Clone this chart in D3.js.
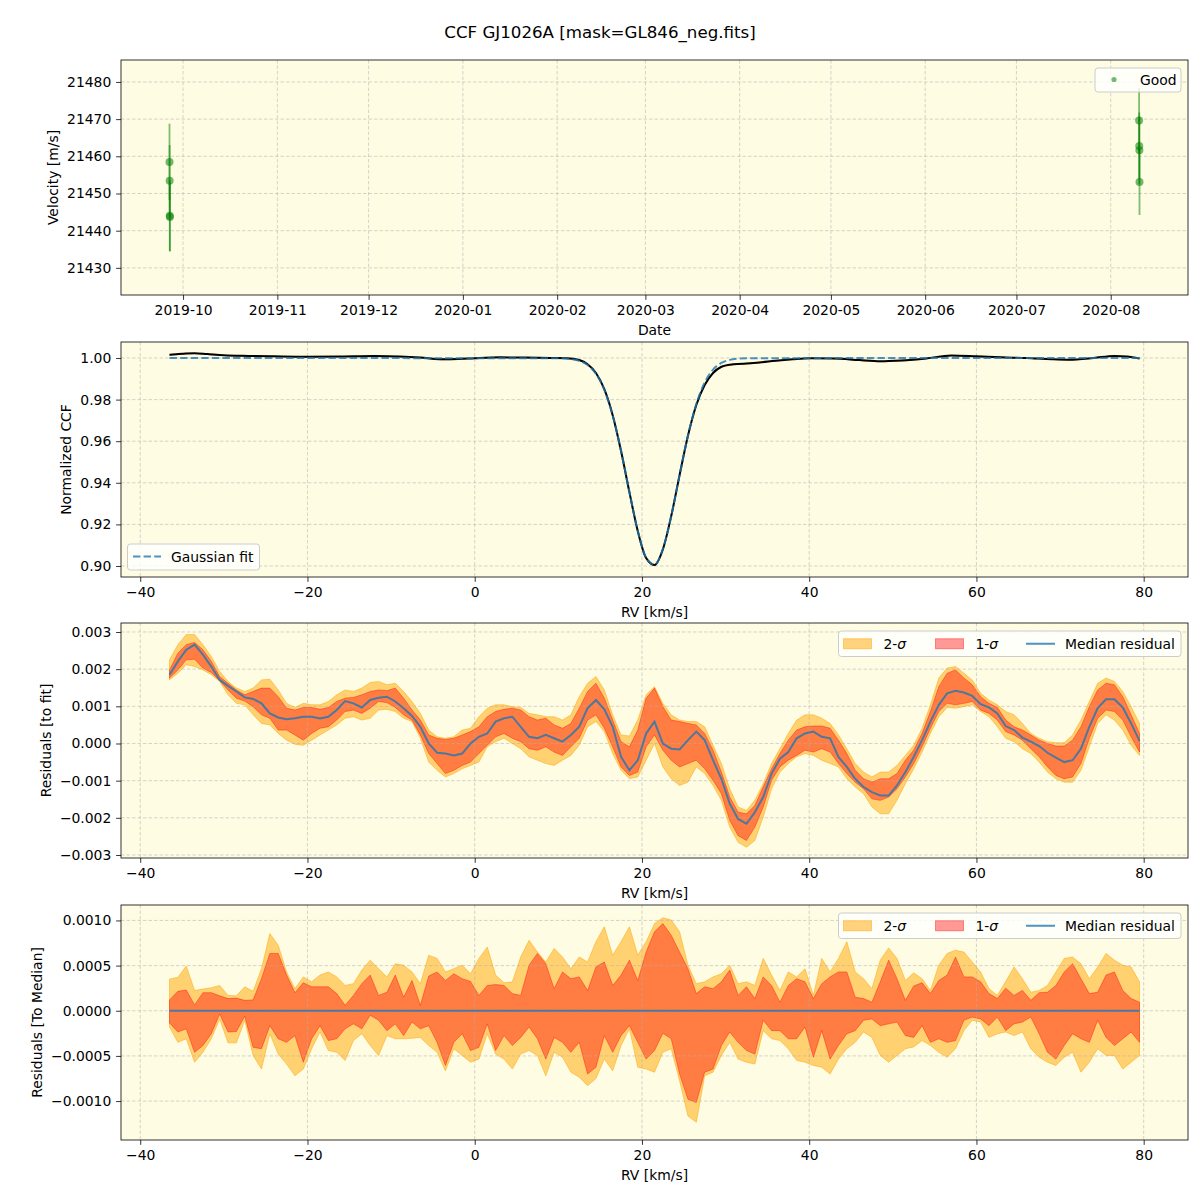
<!DOCTYPE html>
<html><head><meta charset="utf-8">
<script src="https://cdn.jsdelivr.net/npm/d3@7"></script>
<style>body{margin:0;background:#fff}</style>
</head><body><svg id="c" width="1200" height="1200"></svg>
<script>
// ---------------- DATA ----------------
// Panel 1: velocities
const obsDates = ["2019-09-26T13:00Z","2019-09-26T14:00Z","2019-09-26T15:00Z","2019-09-26T16:00Z",
                  "2020-08-10T08:00Z","2020-08-10T09:00Z","2020-08-10T10:00Z","2020-08-10T11:00Z"];
const obsVel = [21458.5, 21453.4, 21444.0, 21443.7, 21469.6, 21462.8, 21461.6, 21453.1];
const obsErr = [10.3, 9.6, 9.5, 9.3, 8.8, 9.0, 9.1, 8.9];

// Panel 2: CCF (median) and Gaussian fit
const ccfRV  = [-36.5,-35,-33.5,-32,-30,-27,-24,-20,-16,-12,-9,-6.5,-4,-2,0,3,6,9,11,
  12.5,13.5,14.5,15.5,16.5,17.5,18.5,19.5,20.5,21.5,22.5,23.5,24.5,25.5,26.5,27.5,28.5,29.5,30.5,
  32,34,36,38,40,43,46,48.5,51,54,57,60,63,66,69,71,74,76.5,78,79.5];
const ccfVal = [1.0016,1.0020,1.0023,1.0019,1.0013,1.0010,1.0008,1.0006,1.0007,1.0009,1.0007,1.0002,0.9994,0.9995,0.9999,1.0003,1.0002,1.0000,0.9999,
  0.9990,0.9970,0.9928,0.9850,0.9725,0.9553,0.9355,0.9168,0.9038,0.9005,0.9080,0.9240,0.9437,0.9626,0.9774,0.9870,0.9928,0.9958,0.9968,
  0.9972,0.9978,0.9987,0.9994,0.9999,0.9998,0.9990,0.9984,0.9988,0.9998,1.0012,1.0008,1.0003,1.0000,0.9994,0.9992,1.0000,1.0010,1.0007,0.9998];
const ccfSpread = [4,4,4,4,4,4,4,4,4,4,4,4,5,5,4,4,4,4,4,
  4,5,5,6,6,6,6,6,6,6,6,6,6,6,6,6,5,5,5,
  5,5,4,4,4,4,5,5,5,4,4,4,4,4,4,4,4,4,4,4]; // x1e-4
const gaussRV  = [-36.5,10.5,11.5,12.5,13.5,14.5,15.5,16.5,17.5,18.5,19.5,20.5,21.5,22.5,23.5,24.5,25.5,26.5,27.5,28.5,29.5,30.5,31.5,32.5,79.5];
const gaussVal = [1.0000,0.99985,0.99952,0.99865,0.99662,0.99238,0.98465,0.97234,0.95539,0.93563,0.91689,0.90397,0.90072,0.90815,0.92396,0.94367,0.96266,0.97785,0.98825,0.99442,0.99762,0.99910,0.99970,0.99991,1.0000];

// RV sampling grid for residual panels
const rv = [-36.5,-35.5,-34.5,-33.5,-32.5,-31.5,-30.5,-29.5,-28.5,-27.5,
  -26.5,-25.5,-24.5,-23.5,-22.5,-21.5,-20.5,-19.5,-18.5,-17.5,
  -16.5,-15.5,-14.5,-13.5,-12.5,-11.5,-10.5,-9.5,-8.5,-7.5,
  -6.5,-5.5,-4.5,-3.5,-2.5,-1.5,-0.5,0.5,1.5,2.5,
  3.5,4.5,5.5,6.5,7.5,8.5,9.5,10.5,11.5,12.5,
  13.5,14.5,15.5,16.5,17.5,18.5,19.5,20.5,21.5,22.5,
  23.5,24.5,25.5,26.5,27.5,28.5,29.5,30.5,31.5,32.5,
  33.5,34.5,35.5,36.5,37.5,38.5,39.5,40.5,41.5,42.5,
  43.5,44.5,45.5,46.5,47.5,48.5,49.5,50.5,51.5,52.5,
  53.5,54.5,55.5,56.5,57.5,58.5,59.5,60.5,61.5,62.5,
  63.5,64.5,65.5,66.5,67.5,68.5,69.5,70.5,71.5,72.5,
  73.5,74.5,75.5,76.5,77.5,78.5,79.5];

// Panel 3: residuals to fit (units of 1e-3)
const fitMedian = [1.85,2.21,2.52,2.66,2.39,2.07,1.71,1.55,1.40,1.24,
  1.20,1.08,0.81,0.70,0.65,0.68,0.72,0.72,0.67,0.72,
  0.90,1.14,1.08,0.97,1.17,1.23,1.26,1.13,0.95,0.74,
  0.45,0.00,-0.25,-0.27,-0.32,-0.27,0.00,0.18,0.27,0.59,
  0.68,0.72,0.45,0.18,0.14,0.23,0.14,0.05,0.23,0.45,
  0.95,1.17,0.92,0.45,-0.36,-0.72,-0.45,0.27,0.59,0.00,
  -0.14,-0.16,0.09,0.32,0.09,-0.45,-0.95,-1.62,-2.03,-2.16,
  -1.85,-1.44,-0.81,-0.41,-0.23,0.14,0.27,0.32,0.18,0.14,
  -0.36,-0.63,-0.95,-1.17,-1.31,-1.40,-1.40,-1.13,-0.77,-0.36,
  0.09,0.59,1.04,1.35,1.42,1.37,1.28,1.06,0.97,0.81,
  0.47,0.36,0.16,0.05,-0.07,-0.25,-0.38,-0.50,-0.45,-0.14,
  0.45,0.95,1.19,1.19,0.97,0.54,0.07];
const fitHi1 = [1.98,2.43,2.66,2.72,2.52,2.21,1.80,1.62,1.44,1.31,
  1.40,1.49,1.49,1.26,0.95,0.90,0.97,0.97,0.92,0.97,
  1.13,1.22,1.24,1.31,1.40,1.44,1.42,1.49,1.22,0.90,
  0.63,0.23,0.14,0.11,0.14,0.23,0.32,0.45,0.72,0.86,
  0.92,0.95,0.90,0.72,0.63,0.68,0.50,0.41,0.54,0.95,
  1.40,1.62,1.22,0.63,0.05,-0.09,0.36,1.22,1.49,0.99,
  0.63,0.59,0.54,0.50,0.27,-0.18,-0.77,-1.44,-1.85,-1.89,
  -1.67,-1.17,-0.68,-0.27,0.09,0.36,0.45,0.47,0.47,0.41,
  0.09,-0.27,-0.72,-0.95,-1.04,-0.95,-0.95,-0.81,-0.45,-0.18,
  0.27,0.86,1.53,1.89,1.98,1.76,1.58,1.26,1.08,0.97,
  0.63,0.45,0.36,0.23,0.09,0.00,-0.07,-0.07,0.09,0.45,
  0.99,1.44,1.62,1.58,1.26,0.77,0.27];
const fitLo1 = [1.76,1.98,2.25,2.27,2.03,1.91,1.69,1.44,1.22,1.14,
  0.99,0.77,0.68,0.36,0.36,0.23,0.09,0.27,0.41,0.45,
  0.63,0.86,0.90,0.81,0.95,1.13,1.10,0.97,0.77,0.63,
  0.23,-0.27,-0.54,-0.81,-0.72,-0.59,-0.50,-0.27,-0.05,0.18,
  0.27,0.14,0.05,-0.14,-0.18,-0.09,-0.23,-0.32,-0.09,0.14,
  0.63,0.77,0.41,-0.09,-0.63,-0.86,-0.77,-0.09,0.23,-0.18,
  -0.45,-0.63,-0.54,-0.45,-0.68,-0.99,-1.35,-2.07,-2.48,-2.61,
  -2.25,-1.71,-0.99,-0.63,-0.45,-0.32,-0.18,-0.23,-0.14,-0.23,
  -0.54,-0.81,-1.04,-1.22,-1.49,-1.53,-1.44,-1.22,-0.90,-0.54,
  -0.09,0.41,0.86,1.08,1.04,1.08,1.13,0.90,0.81,0.63,
  0.32,0.23,0.09,-0.14,-0.36,-0.63,-0.86,-0.95,-0.90,-0.54,
  0.14,0.68,0.90,0.86,0.63,0.18,-0.23];
const fitHi2 = [2.25,2.66,2.93,2.93,2.66,2.34,1.94,1.67,1.49,1.40,
  1.49,1.71,1.73,1.44,1.08,0.97,1.08,1.04,1.04,1.13,
  1.31,1.44,1.40,1.49,1.64,1.67,1.58,1.62,1.40,1.13,
  0.81,0.36,0.18,0.14,0.18,0.36,0.41,0.72,0.95,1.04,
  1.04,0.99,0.97,0.81,0.77,0.72,0.72,0.63,0.77,1.26,
  1.62,1.80,1.44,0.77,0.23,0.20,0.63,1.31,1.53,1.08,
  0.77,0.63,0.59,0.59,0.45,-0.05,-0.54,-1.22,-1.71,-1.80,
  -1.53,-1.08,-0.54,-0.14,0.27,0.63,0.77,0.77,0.68,0.54,
  0.23,-0.14,-0.54,-0.77,-0.90,-0.77,-0.77,-0.59,-0.32,-0.05,
  0.41,1.04,1.76,2.03,2.07,1.89,1.71,1.35,1.17,1.04,
  0.86,0.77,0.54,0.27,0.14,0.05,0.02,0.02,0.23,0.63,
  1.13,1.62,1.76,1.67,1.40,0.99,0.54];
const fitLo2 = [1.71,1.89,2.12,2.07,1.98,1.85,1.67,1.31,1.08,1.04,
  0.77,0.54,0.50,0.27,0.09,-0.02,-0.05,0.09,0.23,0.36,
  0.50,0.68,0.72,0.63,0.68,0.90,0.92,0.86,0.68,0.59,
  0.14,-0.50,-0.72,-0.90,-0.81,-0.68,-0.59,-0.50,-0.09,0.05,
  0.14,0.00,-0.14,-0.36,-0.45,-0.54,-0.59,-0.45,-0.32,-0.05,
  0.45,0.59,0.32,-0.27,-0.72,-0.95,-0.90,-0.45,0.00,-0.63,
  -0.95,-1.13,-1.04,-0.63,-0.81,-1.13,-1.53,-2.25,-2.66,-2.79,
  -2.61,-1.98,-1.22,-0.77,-0.54,-0.36,-0.27,-0.32,-0.45,-0.54,
  -0.63,-0.95,-1.17,-1.35,-1.71,-1.89,-1.89,-1.53,-1.08,-0.68,
  -0.23,0.27,0.72,0.97,0.95,0.99,1.04,0.86,0.72,0.45,
  0.14,0.05,-0.14,-0.27,-0.50,-0.77,-0.95,-1.04,-1.04,-0.72,
  -0.09,0.54,0.77,0.63,0.36,-0.05,-0.32];

// Panel 4: residuals to median (units of 0.5e-4)
const medRV = [-36.5, 79.5];
const medZero = [0, 0];
const medHi2 = [7.0,7.4,9.9,4.5,4.8,5.1,5.6,3.4,3.3,5.3,
  4.3,9.3,17.1,14.5,8.6,4.9,7.5,6.4,7.9,8.6,
  7.5,5.6,6.0,9.0,11.2,9.3,7.5,10.4,10.1,8.6,
  6.0,12.3,11.6,8.6,9.3,10.1,8.2,11.6,14.1,7.9,
  6.2,6.4,11.9,15.6,13.0,10.8,13.8,11.9,9.3,11.9,
  10.8,15.3,18.6,12.3,15.3,18.6,12.3,15.3,19.3,20.6,
  20.1,17.5,10.1,6.0,6.4,7.5,8.2,10.1,6.0,6.4,
  5.6,11.6,7.9,4.5,8.6,7.5,9.3,3.4,11.6,8.6,
  11.6,15.3,8.6,7.1,4.9,11.2,13.9,11.6,6.7,8.4,
  7.1,4.5,10.1,12.7,13.4,13.0,10.8,8.6,4.9,3.4,
  6.5,9.7,7.1,4.1,4.5,5.6,8.6,11.6,11.9,10.4,
  7.1,9.7,12.7,11.2,10.1,9.7,6.4];
const medHi1 = [2.4,4.3,4.6,1.3,4.0,4.0,3.3,2.7,2.8,2.3,
  2.4,7.1,12.7,12.7,7.9,4.0,6.2,5.3,5.3,5.3,
  3.8,1.2,3.4,6.0,7.9,3.4,4.1,7.9,3.0,6.7,
  1.2,7.7,8.6,6.7,8.2,7.1,6.5,3.4,5.6,5.8,
  5.6,3.8,3.4,10.1,12.7,10.4,4.9,8.6,7.1,7.5,
  4.5,9.7,10.8,5.6,7.9,11.2,6.7,13.0,17.5,19.3,
  16.7,13.0,9.3,3.8,5.3,4.9,6.4,9.0,3.4,5.3,
  2.7,7.5,5.6,1.9,5.6,7.1,6.4,2.7,6.0,7.5,
  8.6,8.6,3.0,2.7,1.9,6.4,11.2,7.1,2.3,5.5,
  6.2,3.8,6.7,7.9,11.9,7.5,7.5,6.4,3.8,2.7,
  5.0,3.4,4.5,2.3,4.0,4.1,5.6,8.6,10.4,7.1,
  3.8,4.1,7.9,8.6,4.5,2.7,1.9];
const medLo1 = [-2.7,-4.7,-4.0,-9.2,-7.7,-5.1,-0.7,-4.7,-4.6,-1.2,
  -8.1,-8.4,-3.3,-6.2,-7.0,-5.5,-11.4,-6.2,-3.3,-6.6,
  -6.2,-4.0,-2.9,-4.0,-1.0,-2.1,-4.4,-2.9,-5.5,-2.5,
  -4.0,-3.3,-7.0,-12.1,-7.0,-5.1,-8.8,-8.1,-2.9,-8.8,
  -5.5,-7.7,-5.9,-3.6,-6.2,-10.7,-5.9,-7.0,-9.2,-7.0,
  -14.0,-12.5,-5.5,-9.2,-5.5,-3.3,-7.0,-10.7,-8.8,-5.0,
  -6.2,-14.0,-19.6,-20.3,-13.6,-12.9,-7.7,-4.7,-7.0,-8.8,
  -9.6,-2.1,-4.4,-4.4,-6.2,-6.2,-3.6,-10.3,-4.4,-10.7,
  -7.7,-5.1,-4.4,-2.1,-1.8,-3.3,-2.9,-2.5,-5.5,-5.9,
  -3.3,-7.0,-6.2,-7.0,-6.6,-2.1,-1.4,-1.8,-3.3,-1.4,
  -4.4,-2.9,-2.5,-1.4,-5.1,-9.2,-10.7,-7.7,-5.1,-6.2,
  -7.0,-2.1,-5.9,-7.7,-6.2,-4.7,-7.0];
const medLo2 = [-3.6,-7.0,-6.2,-11.4,-9.2,-6.2,-1.8,-7.1,-7.1,-2.1,
  -9.9,-12.9,-5.1,-9.6,-11.8,-14.4,-12.9,-8.4,-4.7,-8.8,
  -9.2,-11.0,-6.6,-5.1,-7.7,-9.9,-5.5,-6.2,-6.2,-6.1,
  -5.9,-7.7,-9.2,-13.3,-8.4,-9.9,-11.4,-10.7,-5.1,-9.6,
  -10.7,-12.9,-9.6,-8.8,-9.9,-14.4,-9.2,-10.3,-13.6,-14.7,
  -16.6,-15.0,-10.7,-13.3,-7.7,-4.0,-12.5,-12.9,-13.6,-9.2,
  -8.4,-15.5,-23.3,-24.7,-14.4,-13.6,-9.9,-7.0,-10.7,-11.4,
  -11.8,-4.4,-6.2,-6.6,-8.4,-11.0,-11.4,-12.1,-12.5,-14.0,
  -10.7,-8.4,-7.0,-4.7,-5.9,-9.9,-11.4,-9.9,-8.4,-8.0,
  -6.6,-7.7,-9.2,-10.3,-8.4,-4.4,-2.1,-2.5,-5.9,-5.1,
  -4.7,-5.5,-4.7,-8.4,-10.3,-11.4,-12.1,-10.3,-9.2,-13.6,
  -11.4,-8.4,-9.9,-9.9,-12.9,-11.4,-9.9];

// tick values
const velTicks = [21430, 21440, 21450, 21460, 21470, 21480];
const rvTicks = [-40, -20, 0, 20, 40, 60, 80];
const ccfTicks = [0.90, 0.92, 0.94, 0.96, 0.98, 1.00];
const fitTicks = [-0.003, -0.002, -0.001, 0, 0.001, 0.002, 0.003];
const medTicks = [-0.0010, -0.0005, 0, 0.0005, 0.0010];

// ---------------- LAYOUT ----------------
const FONT = '"DejaVu Sans", sans-serif';
const FS = 13.9;
const L = 121, R = 1188, PH = 235;
const tops = [60, 342, 623, 905];
const BG = '#fefce3';
const svg = d3.select('#c');

svg.append('text').attr('x', 600).attr('y', 38).attr('text-anchor', 'middle')
  .attr('font-family', FONT).attr('font-size', 16.67).text('CCF GJ1026A [mask=GL846_neg.fits]');

function panel(top) {
  const g = {};
  g.bg = svg.append('g'); g.fill = svg.append('g'); g.grid = svg.append('g');
  g.line = svg.append('g'); g.axis = svg.append('g'); g.leg = svg.append('g');
  g.bg.append('rect').attr('x', L).attr('y', top).attr('width', R - L).attr('height', PH).attr('fill', BG);
  return g;
}
function axes(g, top, x, y, xt, xf, yt, yf, xlabel, ylabel, ylx) {
  g.grid.selectAll(null).data(xt).join('line')
    .attr('x1', d => x(d)).attr('x2', d => x(d)).attr('y1', top).attr('y2', top + PH);
  g.grid.selectAll(null).data(yt).join('line')
    .attr('x1', L).attr('x2', R).attr('y1', d => y(d)).attr('y2', d => y(d));
  g.grid.selectAll('line').attr('stroke', '#b0b0b0').attr('stroke-opacity', 0.65)
    .attr('stroke-width', 0.8).attr('stroke-dasharray', '3.5,2');
  const ax = g.axis.append('g').attr('transform', `translate(0,${top + PH})`)
    .call(d3.axisBottom(x).tickValues(xt).tickFormat(xf).tickSize(4.86).tickPadding(4.86));
  const ay = g.axis.append('g').attr('transform', `translate(${L},0)`)
    .call(d3.axisLeft(y).tickValues(yt).tickFormat(yf).tickSize(4.86).tickPadding(4.86));
  [ax, ay].forEach(a => {
    a.select('.domain').remove();
    a.attr('font-family', FONT).attr('font-size', FS);
    a.selectAll('line').attr('stroke', '#000').attr('stroke-width', 0.8);
    a.selectAll('text').attr('fill', '#000');
  });
  g.axis.append('rect').attr('x', L).attr('y', top).attr('width', R - L).attr('height', PH)
    .attr('fill', 'none').attr('stroke', '#000').attr('stroke-width', 0.8);
  g.axis.append('text').attr('x', (L + R) / 2).attr('y', top + PH + 40).attr('text-anchor', 'middle')
    .attr('font-family', FONT).attr('font-size', FS).text(xlabel);
  g.axis.append('text').attr('transform', `translate(${ylx},${top + PH / 2}) rotate(-90)`)
    .attr('text-anchor', 'middle').attr('dominant-baseline', 'central')
    .attr('font-family', FONT).attr('font-size', FS).text(ylabel);
}
function legendBox(g, x, y, w, h) {
  g.leg.append('rect').attr('x', x).attr('y', y).attr('width', w).attr('height', h).attr('rx', 3)
    .attr('fill', '#fff').attr('fill-opacity', 0.8).attr('stroke', '#cccccc').attr('stroke-width', 1);
}
function ltext(g, x, y, t, sigma) {
  const tx = g.leg.append('text').attr('x', x).attr('y', y).attr('font-family', FONT).attr('font-size', FS);
  tx.append('tspan').text(t);
  if (sigma) tx.append('tspan').attr('font-style', 'italic').text('σ');
}

// ---------------- PANEL 1 ----------------
{
  const top = tops[0];
  const g = panel(top);
  const dates = obsDates.map(d => new Date(d));
  const ext = d3.extent(dates);
  const pad = (ext[1] - ext[0]) * 0.05;
  const x = d3.scaleUtc().domain([new Date(+ext[0] - pad), new Date(+ext[1] + pad)]).range([L, R]);
  const y = d3.scaleLinear().domain([21422.7, 21485.9]).range([top + PH, top]);
  const months = d3.utcMonth.range(new Date('2019-10-01T00:00Z'), new Date('2020-08-02T00:00Z'));
  axes(g, top, x, y, months, d3.utcFormat('%Y-%m'), velTicks, d3.format('d'), 'Date', 'Velocity [m/s]', 53);
  const pts = obsDates.map((d, i) => ({ t: dates[i], v: obsVel[i], e: obsErr[i] }));
  g.line.selectAll(null).data(pts).join('line')
    .attr('x1', d => x(d.t)).attr('x2', d => x(d.t)).attr('y1', d => y(d.v - d.e)).attr('y2', d => y(d.v + d.e))
    .attr('stroke', 'green').attr('stroke-opacity', 0.5).attr('stroke-width', 1.8);
  g.line.selectAll(null).data(pts).join('circle')
    .attr('cx', d => x(d.t)).attr('cy', d => y(d.v)).attr('r', 4)
    .attr('fill', 'green').attr('fill-opacity', 0.55);
  legendBox(g, 1095, 68, 86, 24);
  g.leg.append('circle').attr('cx', 1114).attr('cy', 79.5).attr('r', 2.6).attr('fill', 'green').attr('fill-opacity', 0.55);
  ltext(g, 1140, 84.5, 'Good');
}

// shared RV x-scale
const rvExt = d3.extent(rv);
const rvPad = (rvExt[1] - rvExt[0]) * 0.05;
const xRV = d3.scaleLinear().domain([rvExt[0] - rvPad, rvExt[1] + rvPad]).range([L, R]);
const rvFmt = d3.format('d');

// ---------------- PANEL 2 ----------------
{
  const top = tops[1];
  const g = panel(top);
  const y = d3.scaleLinear().domain([0.89471, 1.00769]).range([top + PH, top]);
  axes(g, top, xRV, y, rvTicks, rvFmt, ccfTicks, d3.format('.2f'), 'RV [km/s]', 'Normalized CCF', 66);
  const pts = ccfRV.map((r, i) => ({ r, v: ccfVal[i], s: ccfSpread[i] * 1e-4 }));
  g.fill.append('path').datum(pts)
    .attr('d', d3.area().x(d => xRV(d.r)).y0(d => y(d.v - d.s)).y1(d => y(d.v + d.s * 0.4)).curve(d3.curveMonotoneX))
    .attr('fill', '#ff6a2a').attr('fill-opacity', 0.85);
  g.line.append('path').datum(pts)
    .attr('d', d3.line().x(d => xRV(d.r)).y(d => y(d.v)).curve(d3.curveMonotoneX))
    .attr('fill', 'none').attr('stroke', '#000').attr('stroke-width', 2);
  const gp = gaussRV.map((r, i) => ({ r, v: gaussVal[i] }));
  g.line.append('path').datum(gp)
    .attr('d', d3.line().x(d => xRV(d.r)).y(d => y(d.v)).curve(d3.curveMonotoneX))
    .attr('fill', 'none').attr('stroke', '#1f77b4').attr('stroke-opacity', 0.8)
    .attr('stroke-width', 2).attr('stroke-dasharray', '7.4,3.2');
  legendBox(g, 127.5, 544, 132, 26);
  g.leg.append('line').attr('x1', 133).attr('x2', 161).attr('y1', 556.5).attr('y2', 556.5)
    .attr('stroke', '#1f77b4').attr('stroke-opacity', 0.8).attr('stroke-width', 2).attr('stroke-dasharray', '7.4,3.2');
  ltext(g, 171, 561.5, 'Gaussian fit');
}

// ---------------- residual panels ----------------
function residualPanel(top, y, hi2, lo2, hi1, lo1, medX, medY, yt, yf, ylabel, ylx) {
  const g = panel(top);
  axes(g, top, xRV, y, rvTicks, rvFmt, yt, yf, 'RV [km/s]', ylabel, ylx);
  const band = (hi, lo) => rv.map((r, i) => ({ r, hi: hi[i], lo: lo[i] }));
  const area = d3.area().x(d => xRV(d.r)).y0(d => y(d.lo)).y1(d => y(d.hi));
  g.fill.append('path').datum(band(hi2, lo2)).attr('d', area)
    .attr('fill', 'orange').attr('fill-opacity', 0.5).attr('stroke', 'orange').attr('stroke-opacity', 0.5).attr('stroke-width', 1);
  g.fill.append('path').datum(band(hi1, lo1)).attr('d', area)
    .attr('fill', 'red').attr('fill-opacity', 0.4).attr('stroke', 'red').attr('stroke-opacity', 0.4).attr('stroke-width', 1);
  const mp = medX.map((r, i) => ({ r, v: medY[i] }));
  g.line.append('path').datum(mp).attr('d', d3.line().x(d => xRV(d.r)).y(d => y(d.v)))
    .attr('fill', 'none').attr('stroke', '#1f77b4').attr('stroke-opacity', 0.8).attr('stroke-width', 2);
  // legend
  const ly = top + 8;
  legendBox(g, 838.5, ly, 342.5, 25.5);
  const cy = ly + 12.75;
  g.leg.append('rect').attr('x', 843.5).attr('y', cy - 5).attr('width', 28).attr('height', 10)
    .attr('fill', 'orange').attr('fill-opacity', 0.5).attr('stroke', 'orange').attr('stroke-opacity', 0.5);
  ltext(g, 883.5, cy + 5, '2-', true);
  g.leg.append('rect').attr('x', 935.5).attr('y', cy - 5).attr('width', 28).attr('height', 10)
    .attr('fill', 'red').attr('fill-opacity', 0.4).attr('stroke', 'red').attr('stroke-opacity', 0.4);
  ltext(g, 975.5, cy + 5, '1-', true);
  g.leg.append('line').attr('x1', 1026).attr('x2', 1055).attr('y1', cy).attr('y2', cy)
    .attr('stroke', '#1f77b4').attr('stroke-opacity', 0.8).attr('stroke-width', 2);
  ltext(g, 1065, cy + 5, 'Median residual');
}

{
  const top = tops[2];
  const y = d3.scaleLinear().domain([-0.003081, 0.003242]).range([top + PH, top]);
  const s = a => a.map(v => v * 1e-3);
  residualPanel(top, y, s(fitHi2), s(fitLo2), s(fitHi1), s(fitLo1), rv, s(fitMedian),
    fitTicks, d3.format('.3f'), 'Residuals [to fit]', 46);
}
{
  const top = tops[3];
  const y = d3.scaleLinear().domain([-0.001431, 0.001171]).range([top + PH, top]);
  const s = a => a.map(v => v * 5e-5);
  residualPanel(top, y, s(medHi2), s(medLo2), s(medHi1), s(medLo1), medRV, medZero,
    medTicks, d3.format('.4f'), 'Residuals [To Median]', 37);
}
</script></body></html>
